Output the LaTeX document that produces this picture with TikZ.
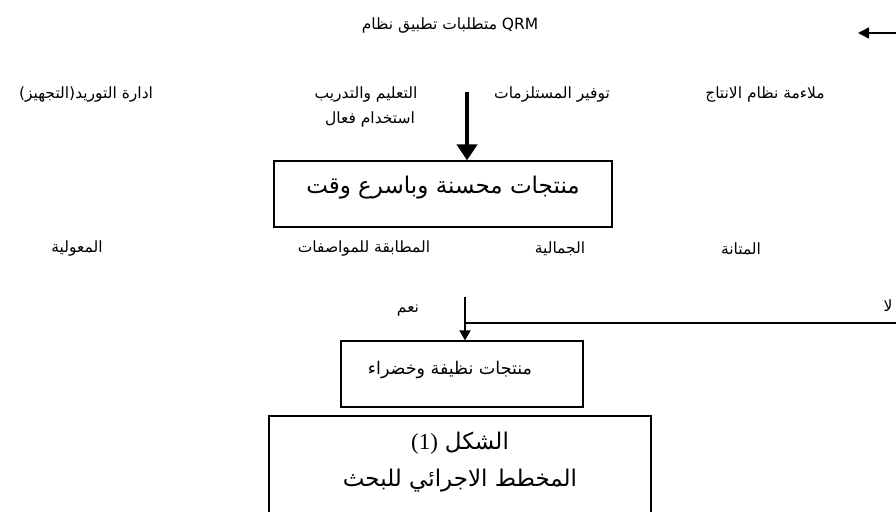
\documentclass[tikz,border=0pt]{standalone}
\usepackage{fontspec}
\newfontfamily\arabicfont[Script=Arabic]{DejaVu Sans}
\newfontfamily\numfont{Liberation Serif}
\TeXXeTstate=1
\newcommand{\artxt}[1]{{\arabicfont\beginR #1\endR}}
\usetikzlibrary{arrows.meta}

\begin{document}
\begin{tikzpicture}[x=1pt,y=-1pt,
	lbl/.style={inner sep=0pt, font=\fontsize{15.5}{18}\selectfont},
	bigtxt/.style={inner sep=0pt, font=\fontsize{23}{27}\selectfont},
	box/.style={draw, line width=1.2pt, inner sep=0pt}]
	\useasboundingbox (0,0) rectangle (896,511);
	% title and incoming arrow
	\node[lbl] (title) at (450,26) {\artxt{متطلبات تطبيق نظام} \arabicfont QRM};
	\coordinate (qin) at (896,33);
	\coordinate (qout) at (858,33);
	\draw[line width=1.5pt, -{Triangle[length=11pt,width=11pt]}] (qin) -- (qout);
	% requirements
	\node[lbl] (fit) at (765,95) {\artxt{ملاءمة نظام الانتاج}};
	\node[lbl] (supply) at (552,95) {\artxt{توفير المستلزمات}};
	\node[lbl] (train) at (366,95) {\artxt{التعليم والتدريب}};
	\node[lbl] (procure) at (86,95) {\artxt{ادارة التوريد(التجهيز)}};
	\node[lbl] (use) at (370,119) {\artxt{استخدام فعال}};
	% improved products
	\node[box, minimum width=338pt, minimum height=66pt] (prod) at (443,194) {};
	\node[bigtxt] (prodtxt) at (443,188) {\artxt{منتجات محسنة وباسرع وقت}};
	\coordinate (down) at (467,92);
	\draw[line width=4.5pt, -{Triangle[length=16pt,width=20pt]}] (down) -- (down |- prod.north);
	% properties
	\node[lbl] (strong) at (741,249) {\artxt{المتانة}};
	\node[lbl] (beauty) at (560,249) {\artxt{الجمالية}};
	\node[lbl] (spec) at (364,249) {\artxt{المطابقة للمواصفات}};
	\node[lbl] (rel) at (77,249) {\artxt{المعولية}};
	% yes / no
	\node[lbl] (yes) at (408,311) {\artxt{نعم}};
	\node[lbl] (no) at (888,306) {\artxt{لا}};
	\node[box, minimum width=242pt, minimum height=66pt] (green) at (462,374) {};
	\node[lbl, font=\fontsize{17.5}{21}\selectfont] (greentxt) at (450,370) {\artxt{منتجات نظيفة وخضراء}};
	\coordinate (yestop) at (465,297);
	\coordinate (noend) at (896,323);
	\draw[line width=1.5pt, -{Triangle[length=10pt,width=11pt]}] (yestop) -- (yestop |- green.north);
	\draw[line width=1.2pt] (noend) -- (noend -| yestop);
	% figure caption
	\node[box, minimum width=382pt, minimum height=108pt] (fig) at (460,470) {};
	\node[bigtxt] (fignum) at (460,443) {{\numfont (1)} \artxt{الشكل}};
	\node[bigtxt] (figtxt) at (460,481) {\artxt{المخطط الاجرائي للبحث}};
\end{tikzpicture}
\end{document}
